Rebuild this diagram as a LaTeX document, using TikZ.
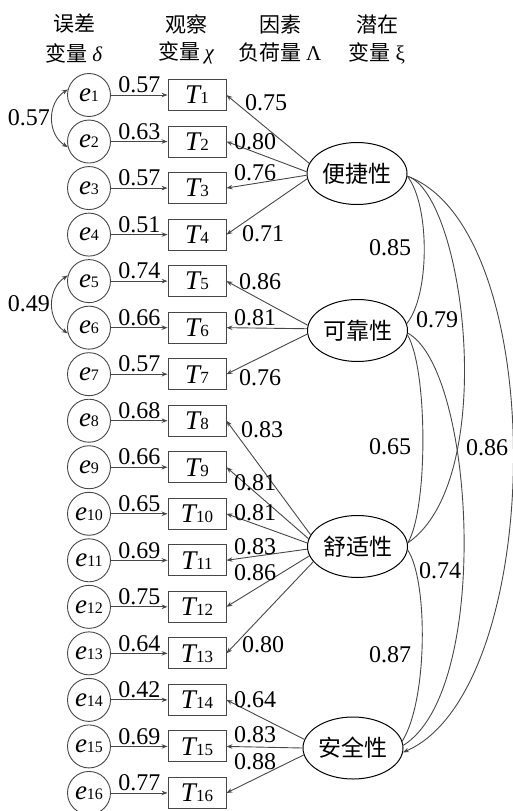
\documentclass[tikz,border=0pt]{standalone}
\usepackage{fontspec}
\setmainfont{Liberation Serif}
\newfontfamily\cjk{Noto Sans CJK SC}
\newfontfamily\numfont{Liberation Serif}
\usetikzlibrary{arrows.meta,shapes.geometric}
\begin{document}
\begin{tikzpicture}[x=1pt,y=-1pt,
  line/.style={draw=black!72, line width=0.9pt},
  arr/.style={line, -{Stealth[length=6pt,width=4.5pt]}},
  darr/.style={line, {Stealth[length=6pt,width=4.5pt]}-{Stealth[length=6pt,width=4.5pt]}},
  errnode/.style={circle, draw=black!72, line width=0.9pt, minimum size=43pt, inner sep=0pt},
  obsnode/.style={rectangle, draw=black!72, line width=0.9pt, minimum width=58pt, minimum height=31pt, inner sep=0pt},
  latnode/.style={ellipse, draw=black, line width=1pt, minimum width=100pt, minimum height=62pt, inner sep=0pt, font=\cjk\fontsize{23}{23}\selectfont},
  num/.style={font=\numfont\fontsize{24}{24}\selectfont, inner sep=0pt},
  hdr/.style={font=\cjk\fontsize{21}{21}\selectfont, inner sep=0pt},
]
\useasboundingbox (0,0) rectangle (512,811);
% header
\node[hdr] (h1a) at (74,24) {误差};
\node[hdr] (h1b) at (74,53) {变量 {\numfont\itshape δ}};
\node[hdr] (h2a) at (186,24) {观察};
\node[hdr] (h2b) at (186,53) {变量 {\numfont\itshape χ}};
\node[hdr] (h3a) at (280,24) {因素};
\node[hdr] (h3b) at (280,53) {负荷量 {\numfont Λ}};
\node[hdr] (h4a) at (377,24) {潜在};
\node[hdr] (h4b) at (377,53) {变量 {\numfont ξ}};
% rows
\foreach \i/\a in {1/0.57,2/0.63,3/0.57,4/0.51,5/0.74,6/0.66,7/0.57,8/0.68,9/0.66,10/0.65,11/0.69,12/0.75,13/0.64,14/0.42,15/0.69,16/0.77}{
  \pgfmathsetmacro\yy{95+46.53*(\i-1)}
  \node[errnode] (e\i) at (89,\yy) {\numfont\fontsize{27}{27}\selectfont\itshape e{\upshape\fontsize{16}{16}\selectfont\i}};
  \node[obsnode] (T\i) at (197,\yy) {\numfont\fontsize{27}{27}\selectfont\itshape T{\upshape\fontsize{17}{17}\selectfont\i}};
  \draw[arr] (e\i) -- node[num, above=1.5pt]{\a} (T\i);
}
% latent variables
\node[latnode] (bj) at (357,173.5) {便捷性};
\node[latnode] (kk) at (357.5,330.5) {可靠性};
\node[latnode] (sh) at (357.5,546.5) {舒适性};
\node[latnode] (aq) at (353,748) {安全性};
% loadings
\draw[arr] (bj.168) -- (T1.east);
\draw[arr] (bj.178) -- (T2.east);
\draw[arr] (bj.182) -- (T3.east);
\draw[arr] (bj.186) -- (T4.east);
\draw[arr] (kk.174) -- (T5.east);
\draw[arr] (kk.178) -- (T6.east);
\draw[arr] (kk.184) -- (T7.east);
\draw[arr] (sh.166) -- (T8.east);
\draw[arr] (sh.171) -- (T9.east);
\draw[arr] (sh.176) -- (T10.east);
\draw[arr] (sh.183) -- (T11.east);
\draw[arr] (sh.191) -- (T12.east);
\draw[arr] (sh.199) -- (T13.east);
\draw[arr] (aq.170) -- (T14.east);
\draw[arr] (aq.180) -- (T15.east);
\draw[arr] (aq.188) -- (T16.east);
% loading labels
\node[num] (l1) at (266,103) {0.75};
\node[num] (l2) at (255,142) {0.80};
\node[num] (l3) at (255,173) {0.76};
\node[num] (l4) at (263,234) {0.71};
\node[num] (l5) at (260,282) {0.86};
\node[num] (l6) at (255,318) {0.81};
\node[num] (l7) at (260,378) {0.76};
\node[num] (l8) at (262,430) {0.83};
\node[num] (l9) at (255,483) {0.81};
\node[num] (l10) at (255,513) {0.81};
\node[num] (l11) at (255,547) {0.83};
\node[num] (l12) at (255,573) {0.86};
\node[num] (l13) at (263,645) {0.80};
\node[num] (l14) at (255,700) {0.64};
\node[num] (l15) at (255,735) {0.83};
\node[num] (l16) at (255,762) {0.88};
% error covariances
\draw[darr] (e1.165) .. controls (47,103) and (47,134) .. (e2.195);
\node[num] (c12) at (29,118) {0.57};
\draw[darr] (e5.165) .. controls (47,289) and (47,320) .. (e6.195);
\node[num] (c56) at (29,304) {0.49};
% latent correlations
\draw[line] (bj.-3) .. controls (430,205) and (430,295) .. (kk.8);
\draw[line] (bj.-3) .. controls (465,195) and (500,480) .. (sh.4);
\draw[arr] (bj.-3) .. controls (552,230) and (546,690) .. (aq.-5);
\draw[line] (kk.-5) .. controls (428,370) and (428,510) .. (sh.4);
\draw[line] (kk.-3) .. controls (475,370) and (492,690) .. (aq.3);
\draw[line] (sh.-4) .. controls (428,580) and (428,700) .. (aq.8);
\node[num] (r1) at (390,248) {0.85};
\node[num] (r2) at (437,320) {0.79};
\node[num] (r3) at (487,448) {0.86};
\node[num] (r4) at (390,447) {0.65};
\node[num] (r5) at (440,571) {0.74};
\node[num] (r6) at (390,655) {0.87};
\end{tikzpicture}
\end{document}
